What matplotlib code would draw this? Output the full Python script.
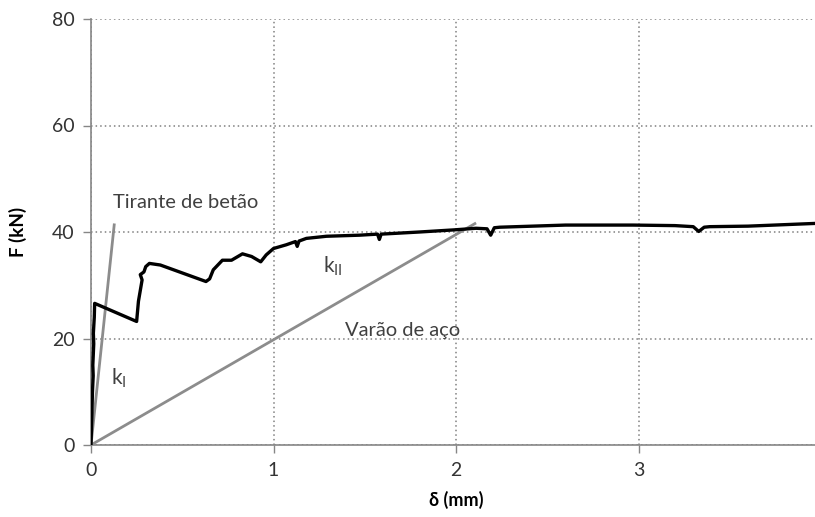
import matplotlib.pyplot as plt

# curva força-deslocamento do ensaio
delta = [0.0, 0.005, 0.008, 0.012, 0.010, 0.015, 0.013, 0.018, 0.020, 0.25, 0.26, 0.28, 0.27, 0.29, 0.30,
         0.32, 0.38, 0.63, 0.65, 0.67, 0.72, 0.77, 0.83, 0.88, 0.93, 0.96, 1.00,
         1.07, 1.12, 1.13, 1.14, 1.18, 1.29, 1.47, 1.57, 1.58, 1.59, 1.80, 1.99,
         2.11, 2.17, 2.19, 2.21, 2.24, 2.60, 2.97, 3.20, 3.30, 3.33, 3.36, 3.39,
         3.60, 3.96]
forca = [0.0, 6.0, 10.0, 13.0, 15.0, 19.0, 21.0, 24.0, 26.6, 23.2, 27.0, 31.0, 32.0, 32.5, 33.5,
         34.1, 33.8, 30.7, 31.2, 32.9, 34.7, 34.7, 35.9, 35.4, 34.4, 35.7, 36.9,
         37.6, 38.2, 37.3, 38.3, 38.8, 39.2, 39.4, 39.6, 38.6, 39.6, 40.0, 40.4,
         40.7, 40.6, 39.4, 40.8, 40.9, 41.3, 41.3, 41.2, 41.0, 40.1, 40.9, 41.0,
         41.1, 41.6]

# rigidezes teóricas
tirante_x = [0.0, 0.128]
tirante_y = [0.0, 41.6]
varao_x = [0.0, 2.11]
varao_y = [0.0, 41.7]

xticks = [0, 1, 2, 3, 4]
yticks = [0, 20, 40, 60, 80]

plt.rcParams['font.family'] = ['Lato', 'DejaVu Sans']

fig = plt.figure(figsize=(8.15, 5.17), dpi=100)
ax = fig.add_axes([91/815, 1 - 445/517, 730/815, 426/517])

cinza = '#8c8c8c'
ax.plot(tirante_x, tirante_y, color=cinza, lw=2.0, solid_capstyle='butt', zorder=3)
ax.plot(varao_x, varao_y, color=cinza, lw=2.0, solid_capstyle='butt', zorder=3)
ax.plot(delta, forca, color='black', lw=2.4, zorder=4)

ax.set_xlim(0, 4)
ax.set_ylim(0, 80)
ax.set_xticks(xticks)
ax.set_yticks(yticks)
ax.grid(True, linestyle=(0, (1, 2)), color='#808080', lw=1.1)
ax.set_axisbelow(True)

for s in ['top', 'right']:
    ax.spines[s].set_visible(False)
for s in ['left', 'bottom']:
    ax.spines[s].set_color('#868686')
    ax.spines[s].set_linewidth(1.2)
ax.tick_params(colors='#333333', labelsize=14, length=6, width=1.0, pad=6)
ax.tick_params(axis='both', color='#868686')

ax.set_xlabel('δ (mm)', fontsize=13, fontweight='bold', labelpad=9)
ax.set_ylabel('F (kN)', fontsize=13.5, fontweight='bold', labelpad=18)

ax.text(0.12, 44.6, 'Tirante de betão', fontsize=14.5, color='#404040')
ax.text(1.39, 20.5, 'Varão de aço', fontsize=14.5, color='#404040')
ax.text(0.11, 11.3, 'k$_\\mathregular{I}$', fontsize=15, color='#404040')
ax.text(1.27, 32.4, 'k$_\\mathregular{II}$', fontsize=15, color='#404040')

fig.savefig('out.png', dpi=100)
